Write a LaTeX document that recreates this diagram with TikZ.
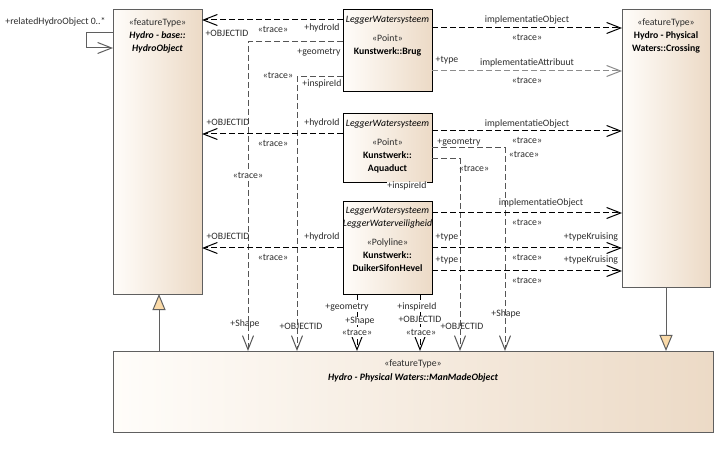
\documentclass[tikz,border=0pt]{standalone}
\usepackage{fontspec}
\setmainfont{Carlito}
\usetikzlibrary{arrows.meta}
\definecolor{boxR}{RGB}{236,218,198}
\definecolor{boxL}{RGB}{255,253,250}
\definecolor{genfill}{RGB}{250,218,168}
\definecolor{frame}{RGB}{95,95,95}
\definecolor{txt}{RGB}{45,45,45}
\definecolor{connG}{RGB}{85,85,85}
\definecolor{connL}{RGB}{140,140,140}
\begin{document}
\begin{tikzpicture}[x=1bp,y=-1bp,
  every node/.style={font=\fontsize{9.8}{12}\selectfont, inner sep=0pt, outer sep=0pt, text height=7bp, text depth=1bp},
  cls/.style={draw=frame, line width=1bp, left color=boxL, right color=boxR, anchor=north west, text height=, text depth=},
  clsk/.style={cls, draw=black},
  lbl/.style={text=txt},
  lblw/.style={text=txt, fill=white},
  ttl/.style={text=black},
  stt/.style={text=txt},
  dep/.style={draw=black, line width=1bp, dash pattern=on 6bp off 3bp, -{Straight Barb[length=14bp,width=11bp]}},
  depg/.style={dep, draw=connG},
  depl/.style={dep, draw=connL},
  gen/.style={draw=frame, line width=1bp, -{Triangle[length=16bp,width=13bp,fill=genfill]}},
  selfa/.style={draw=frame, line width=1bp, -{Straight Barb[length=14bp,width=11bp]}},
]
\useasboundingbox (0,0) rectangle (723,450);
\fill[white] (0,0) rectangle (723,450);

% classes
\node[cls, minimum width=89bp, minimum height=284bp] (hydro) at (113,10) {};
\node[clsk, minimum width=89bp, minimum height=82bp] (brug) at (343,10) {};
\node[cls, minimum width=88bp, minimum height=277bp] (cross) at (622,10) {};
\node[clsk, minimum width=89bp, minimum height=69bp] (aqua) at (343,114) {};
\node[clsk, minimum width=89bp, minimum height=92bp] (duik) at (343,202) {};
\node[cls, minimum width=600bp, minimum height=81bp] (mmo) at (113,351) {};

% class texts
\node[stt] (hydroS) at (157.5,23) {«featureType»};
\node[ttl] (hydroA) at (157.5,36) {\textbf{\textit{Hydro - base::}}};
\node[ttl] (hydroB) at (157.5,49) {\textbf{\textit{HydroObject}}};
\node[ttl] (brugP) at (387.5,20) {\textit{LeggerWatersysteem}};
\node[stt] (brugS) at (387.5,39) {«Point»};
\node[ttl] (brugN) at (387.5,52) {\textbf{Kunstwerk::Brug}};
\node[stt] (crossS) at (666,23) {«featureType»};
\node[ttl] (crossA) at (666,36) {\textbf{Hydro - Physical}};
\node[ttl] (crossB) at (666,49) {\textbf{Waters::Crossing}};
\node[ttl] (aquaP) at (387.5,124) {\textit{LeggerWatersysteem}};
\node[stt] (aquaS) at (387.5,143) {«Point»};
\node[ttl] (aquaA) at (387.5,156) {\textbf{Kunstwerk::}};
\node[ttl] (aquaB) at (387.5,169) {\textbf{Aquaduct}};
\node[ttl] (duikP) at (387.5,211) {\textit{LeggerWatersysteem}};
\node[ttl] (duikQ) at (387.5,224) {\textit{LeggerWaterveiligheid}};
\node[stt] (duikS) at (387.5,243) {«Polyline»};
\node[ttl] (duikA) at (387.5,256) {\textbf{Kunstwerk::}};
\node[ttl] (duikB) at (387.5,269) {\textbf{DuikerSifonHevel}};
\node[stt] (mmoS) at (413,363) {«featureType»};
\node[ttl] (mmoA) at (413,377) {\textbf{\textit{Hydro - Physical Waters::ManMadeObject}}};

% connectors
\draw[selfa] (hydro.west |- 0,33) -- (86,33) -- (86,48) -- (hydro.west |- 0,48);
\draw[gen] (mmo.north -| 159,0) -- (hydro.south -| 159,0);
\draw[gen] (cross.south) -- (mmo.north -| cross.south);
\draw[dep] (brug.west |- 0,20) -- (hydro.east |- 0,20);
\draw[depg] (brug.west |- 0,42) -| (248,0 |- mmo.north);
\draw[depg] (brug.west |- 0,77) -| (297,0 |- mmo.north);
\draw[dep] (brug.east |- 0,28) -- (cross.west |- 0,28);
\draw[depl] (brug.east |- 0,71) -- (cross.west |- 0,71);
\draw[dep] (aqua.west |- 0,134) -- (hydro.east |- 0,134);
\draw[dep] (aqua.east |- 0,131) -- (cross.west |- 0,131);
\draw[depg] (aqua.east |- 0,148) -| (505,0 |- mmo.north);
\draw[depg] (aqua.east |- 0,159) -| (460,0 |- mmo.north);
\draw[dep] (duik.west |- 0,248) -- (hydro.east |- 0,248);
\draw[dep] (duik.east |- 0,213) -- (cross.west |- 0,213);
\draw[dep] (duik.east |- 0,248) -- (cross.west |- 0,248);
\draw[dep] (duik.east |- 0,271) -- (cross.west |- 0,271);
\draw[dep] (duik.south -| 357,0) -- (mmo.north -| 357,0);
\draw[dep] (duik.south -| 420,0) -- (mmo.north -| 420,0);

% labels
\node[lbl] (l0) at (55.5,22) {+relatedHydroObject 0..*};
\node[lbl] (l1a) at (227,34) {+OBJECTID};
\node[lbl] (l1b) at (273,30) {«trace»};
\node[lbl] (l1c) at (322,28) {+hydroId};
\node[lbl] (l2a) at (319,52) {+geometry};
\node[lblw] (l2b) at (248,176) {«trace»};
\node[lbl] (l2c) at (245,324) {+Shape};
\node[lbl] (l3a) at (278,76) {«trace»};
\node[lblw] (l3b) at (322,84) {+inspireId};
\node[lbl] (l3c) at (301,327) {+OBJECTID};
\node[lbl] (l4a) at (527,20) {implementatieObject};
\node[lbl] (l4b) at (527,38) {«trace»};
\node[lbl] (l5a) at (447,60) {+type};
\node[lbl] (l5b) at (527,63) {implementatieAttribuut};
\node[lbl] (l5c) at (527,81) {«trace»};
\node[lbl] (l6a) at (228,123) {+OBJECTID};
\node[lbl] (l6b) at (322,123) {+hydroId};
\node[lbl] (l6c) at (273,144) {«trace»};
\node[lbl] (l7a) at (527,124) {implementatieObject};
\node[lbl] (l7b) at (527,141) {«trace»};
\node[lbl] (l8a) at (459,142) {+geometry};
\node[lbl] (l8b) at (524,155) {«trace»};
\node[lbl] (l8c) at (506,314) {+Shape};
\node[lbl] (l9a) at (474,169) {«trace»};
\node[lblw] (l9b) at (407,186) {+inspireId};
\node[lbl] (l9c) at (462,327) {+OBJECTID};
\node[lbl] (l10a) at (228,237) {+OBJECTID};
\node[lbl] (l10b) at (322,237) {+hydroId};
\node[lbl] (l10c) at (273,258) {«trace»};
\node[lbl] (l11a) at (541,203) {implementatieObject};
\node[lbl] (l11b) at (527,223) {«trace»};
\node[lbl] (l12a) at (447,237) {+type};
\node[lbl] (l12b) at (591,237) {+typeKruising};
\node[lbl] (l12c) at (527,258) {«trace»};
\node[lbl] (l13a) at (447,260) {+type};
\node[lbl] (l13b) at (591,260) {+typeKruising};
\node[lbl] (l13c) at (527,281) {«trace»};
\node[lblw] (l14a) at (347,307) {+geometry};
\node[lblw] (l14b) at (360,321) {+Shape};
\node[lblw] (l14c) at (357,333) {«trace»};
\node[lblw] (l15a) at (417,307) {+inspireId};
\node[lblw] (l15b) at (420,320) {+OBJECTID};
\node[lblw] (l15c) at (421,333) {«trace»};
\end{tikzpicture}
\end{document}
